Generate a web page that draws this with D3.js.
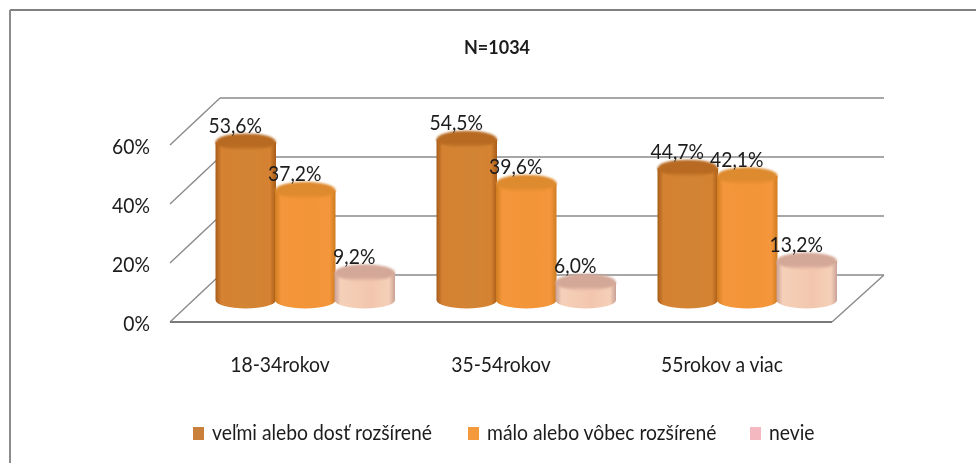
<!DOCTYPE html>
<html><head><meta charset="utf-8">
<script src="https://cdn.jsdelivr.net/npm/d3@7"></script>
<style>
html,body{margin:0;padding:0;background:#fff;overflow:hidden}
text{font-family:Lato,"Open Sans",sans-serif;fill:#1c1c1c}
</style></head><body><svg id="c" width="976" height="463"></svg>
<script>
const title = "N=1034";
const categories = ["18-34rokov","35-54rokov","55rokov a viac"];
const seriesNames = ["veľmi alebo dosť rozšírené","málo alebo vôbec rozšírené","nevie"];
const series1 = [53.6,54.5,44.7];
const series2 = [37.2,39.6,42.1];
const series3 = [9.2,6.0,13.2];
const ticks = [0,20,40,60];
const palettes = [
  {edge:"#a85c18",mid:"#d58232",light:"#d28434",top:"#b86a22",swatch:"#c9803a"},
  {edge:"#cf7c20",mid:"#f4963a",light:"#f29438",top:"#de8a2e",swatch:"#f49a3e"},
  {edge:"#c9a096",mid:"#f5d0b8",light:"#f2c6ae",top:"#d4a898",swatch:"#f4b8c0"}
];
const legendX = [193,468,750];
const svg=d3.select("#c");
const defs=svg.append("defs");
defs.append("filter").attr("id","soft").append("feGaussianBlur").attr("stdDeviation",0.5);
defs.append("filter").attr("id","soft2").append("feGaussianBlur").attr("stdDeviation",1.2);

function squeeze(sel,f){
  const n=sel.node();
  sel.attr("textLength",n.getComputedTextLength()*f).attr("lengthAdjust","spacingAndGlyphs");
  return sel;
}

const frame=svg.append("g").attr("filter","url(#soft)");
frame.append("line").attr("x1",10).attr("x2",976).attr("y1",10).attr("y2",10).attr("stroke","#808080").attr("stroke-width",1.8);
frame.append("line").attr("x1",10).attr("x2",10).attr("y1",10).attr("y2",463).attr("stroke","#808080").attr("stroke-width",1.8);

const y=d3.scaleLinear().domain([0,60]).range([275,98]);
const depthX=50,depthY=47;
const backL=220,backR=884;
const x0=d3.scaleBand().domain(categories).range([173,836]);
const bw=59.5;

const axis=svg.append("g").attr("filter","url(#soft)");
ticks.forEach(t=>{
  const yy=y(t);
  axis.append("line").attr("x1",backL).attr("x2",backR).attr("y1",yy).attr("y2",yy).attr("stroke","#8a8a8a").attr("stroke-width",1.6);
  axis.append("line").attr("x1",backL-depthX).attr("x2",backL).attr("y1",yy+depthY).attr("y2",yy).attr("stroke","#8a8a8a").attr("stroke-width",1.4);
  squeeze(axis.append("text").attr("x",150).attr("y",yy+depthY+1.5).attr("dy","0.35em").attr("text-anchor","end").attr("font-size",21).text(t+"%"),0.92);
});
axis.append("line").attr("x1",backL-depthX).attr("x2",832).attr("y1",y(0)+depthY).attr("y2",y(0)+depthY).attr("stroke","#7a7a7a").attr("stroke-width",1.8);
axis.append("line").attr("x1",832).attr("x2",backR).attr("y1",y(0)+depthY).attr("y2",y(0)).attr("stroke","#8a8a8a").attr("stroke-width",1.4);

palettes.forEach((p,i)=>{
  const g=defs.append("linearGradient").attr("id","g"+i);
  [[0,p.edge],[0.1,p.mid],[0.6,p.light],[0.9,p.mid],[1,p.edge]].forEach(s=>g.append("stop").attr("offset",s[0]).attr("stop-color",s[1]));
  const v=defs.append("linearGradient").attr("id","t"+i).attr("x1",0).attr("x2",0).attr("y1",0).attr("y2",1);
  [[0,p.top],[0.75,p.top],[1,p.light]].forEach(s=>v.append("stop").attr("offset",s[0]).attr("stop-color",s[1]));
});

const allSeries=[series1,series2,series3];
const rx=bw/2+0.5,ry=8.5,baseShift=25;
const offs=d3.scaleBand().domain(d3.range(3)).range([43,43+bw*3]);
const bars=svg.append("g").attr("filter","url(#soft)");
categories.forEach(c=>{
  const ci=categories.indexOf(c);
  allSeries.forEach((s,si)=>{
    const v=s[ci];
    const cx=x0(c)+offs(si)+offs.bandwidth()/2;
    const yt=y(v)+baseShift, yb=y(0)+baseShift;
    bars.append("path")
      .attr("d",`M${cx-rx},${yt}L${cx-rx},${yb}A${rx},${ry} 0 0 0 ${cx+rx},${yb}L${cx+rx},${yt}Z`)
      .attr("fill",`url(#g${si})`);
    bars.append("ellipse").attr("cx",cx).attr("cy",yt).attr("rx",rx).attr("ry",ry).attr("fill",`url(#t${si})`).attr("filter","url(#soft2)");
  });
});
const labels=svg.append("g").attr("filter","url(#soft)");
categories.forEach((c,ci)=>{
  allSeries.forEach((s,si)=>{
    const v=s[ci];
    const cx=x0(c)+offs(si)+offs.bandwidth()/2;
    squeeze(labels.append("text").attr("x",cx-10.5).attr("y",y(v)+baseShift-9).attr("text-anchor","middle").attr("font-size",21)
      .text(d3.format(".1f")(v).replace(".",",")+"%"),0.92);
  });
});

const txt=svg.append("g").attr("filter","url(#soft)");
txt.append("text").attr("x",497).attr("y",54).attr("text-anchor","middle").attr("font-size",18).attr("font-weight",700).text(title);
const catX=d3.scalePoint().domain(categories).range([280,722]);
categories.forEach(c=>squeeze(txt.append("text").attr("x",catX(c)).attr("y",372).attr("text-anchor","middle").attr("font-size",21).text(c),0.92));
seriesNames.forEach((n,i)=>{
  txt.append("rect").attr("x",legendX[i]).attr("y",427).attr("width",11).attr("height",13).attr("fill",palettes[i].swatch);
  squeeze(txt.append("text").attr("x",legendX[i]+19).attr("y",440).attr("font-size",21).text(n),0.92);
});
</script></body></html>
